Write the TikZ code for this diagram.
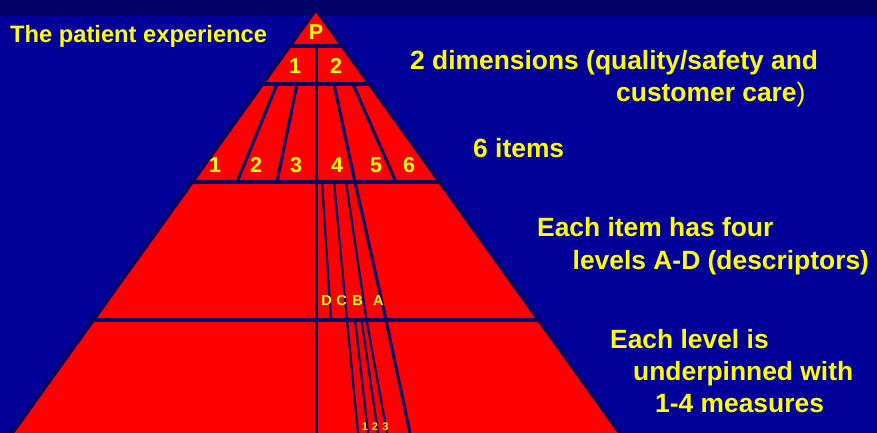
\documentclass[tikz,border=0pt]{standalone}
\usepackage{fontspec}
\setmainfont{Liberation Sans}
\definecolor{bgblue}{RGB}{0,0,153}
\definecolor{bandblue}{RGB}{0,0,102}
\definecolor{navyline}{RGB}{0,0,102}
\definecolor{pyred}{RGB}{255,0,0}
\definecolor{yel}{RGB}{255,255,0}
\begin{document}
\begin{tikzpicture}[x=1pt,y=-1pt,
  sepline/.style={draw=navyline, line width=3.3pt},
  divline/.style={draw=navyline, line width=3pt},
  thinline/.style={draw=navyline, line width=2.2pt},
  lab/.style={text=yel, font=\bfseries\fontsize{21.5}{21.5}\selectfont, inner sep=0pt, anchor=base},
  smalllab/.style={text=yel, font=\bfseries\fontsize{14.5}{14.5}\selectfont, inner sep=0pt, anchor=base},
  tinylab/.style={text=yel, font=\bfseries\fontsize{11}{11}\selectfont, inner sep=0pt, anchor=base},
  desc/.style={text=yel, font=\bfseries\fontsize{26.4}{26.4}\selectfont, inner sep=0pt, anchor=base west}]
\useasboundingbox (0,0) rectangle (877,433);
\clip (0,0) rectangle (877,433);
\fill[bgblue] (0,0) rectangle (877,433);
\fill[bandblue] (0,0) rectangle (877,15);
% pyramid
\coordinate (apex) at (316,9);
\coordinate (botl) at (-7.4,460);
\coordinate (botr) at (639.4,460);
\filldraw[fill=pyred, draw=navyline, line width=3.8pt, line join=miter] (apex) -- (botr) -- (botl) -- cycle;
% horizontal tiers
\coordinate (h1l) at (289.5,46);  \coordinate (h1r) at (342.5,46);
\coordinate (h2l) at (262.2,84);  \coordinate (h2r) at (369.8,84);
\coordinate (h3l) at (192,182);   \coordinate (h3r) at (440,182);
\coordinate (h4l) at (93,320);    \coordinate (h4r) at (539,320);
\draw[sepline] (h1l) -- (h1r);
\draw[sepline] (h2l) -- (h2r);
\draw[sepline] (h3l) -- (h3r);
\draw[sepline] (h4l) -- (h4r);
% centre line
\coordinate (ctop) at (316,46);
\coordinate (cbot) at (316,460);
\draw[divline] (ctop) -- (cbot);
% tier 3 item dividers
\coordinate (a1) at (277,84);  \coordinate (a2) at (237,182);
\coordinate (b1) at (297,84);  \coordinate (b2) at (277,182);
\coordinate (c1) at (334,84);  \coordinate (c2) at (355,182);
\coordinate (d1) at (353,84);  \coordinate (d2) at (396,182);
\draw[divline] (a1) -- (a2);
\draw[divline] (b1) -- (b2);
\draw[divline] (c1) -- (c2);
\draw[divline] (d1) -- (d2);
% tier 4 level dividers
\coordinate (e1) at (322,182); \coordinate (e2) at (331,320);
\coordinate (f1) at (334,182); \coordinate (f2) at (347,320); \coordinate (f3) at (358,433);
\coordinate (g1) at (346,182); \coordinate (g2) at (366.5,320); \coordinate (g3) at (387,433);
\coordinate (k1) at (355,182); \coordinate (k2) at (386,320); \coordinate (k3) at (410,433);
\draw[thinline] (e1) -- (e2);
\draw[thinline] (f1) -- (f2) -- (f3);
\draw[thinline] (g1) -- (g2) -- (g3);
\draw[divline] (k1) -- (k2) -- (k3);
% tier 5 measure dividers
\coordinate (m1) at (355,320); \coordinate (m2) at (368,433);
\coordinate (n1) at (361.5,320); \coordinate (n2) at (378,433);
\draw[thinline] (m1) -- (m2);
\draw[thinline] (n1) -- (n2);
% labels in pyramid
\node[lab] (lp) at (316,40) {P};
\node[lab] (d1l) at (295,74) {1};
\node[lab] (d2l) at (336,74) {2};
\node[lab] (i1) at (215,172) {1};
\node[lab] (i2) at (256,172) {2};
\node[lab] (i3) at (296,172) {3};
\node[lab] (i4) at (337,172) {4};
\node[lab] (i5) at (376,172) {5};
\node[lab] (i6) at (409,172) {6};
\node[smalllab] (lD) at (326.5,305) {D};
\node[smalllab] (lC) at (341.7,305) {C};
\node[smalllab] (lB) at (357.5,305) {B};
\node[smalllab] (lA) at (378.3,305) {A};
\node[tinylab] (q1) at (365,430) {1};
\node[tinylab] (q2) at (375,430) {2};
\node[tinylab] (q3) at (385.5,430) {3};
% descriptions
\node[desc, font=\bfseries\fontsize{23.7}{23.7}\selectfont] (title) at (10,42.5) {The patient experience};
\node[desc] (t1a) at (410,70) {2 dimensions (quality/safety and};
\node[desc] (t1b) at (616,102) {customer care{\mdseries )}};
\node[desc] (t2) at (473,157) {6 items};
\node[desc] (t3a) at (537,236) {Each item has four};
\node[desc] (t3b) at (572.5,269) {levels A-D (descriptors)};
\node[desc] (t4a) at (610,348) {Each level is};
\node[desc] (t4b) at (633,380) {underpinned with};
\node[desc] (t4c) at (655,412) {1-4 measures};
\end{tikzpicture}
\end{document}
